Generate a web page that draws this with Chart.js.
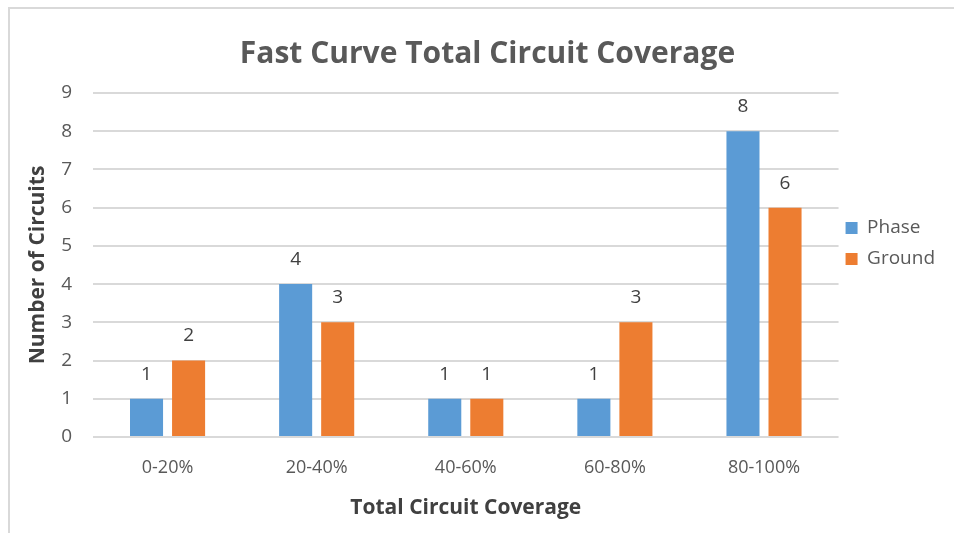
<!DOCTYPE html>
<html>
<head>
<meta charset="utf-8">
<script src="https://cdn.jsdelivr.net/npm/chart.js@4/dist/chart.umd.min.js"></script>
<style>
  html, body { margin: 0; padding: 0; background: #fff; }
  #wrap { position: relative; width: 954px; height: 533px; overflow: hidden; }
  #frame { position: absolute; left: 8px; top: 7px; width: 980px; height: 560px; border: 2px solid #d9d9d9; box-sizing: border-box; }
  canvas { position: absolute; left: 0; top: 0; }
</style>
</head>
<body>
<div id="wrap">
  <div id="frame"></div>
  <canvas id="myChart" width="954" height="533"></canvas>
</div>
<script>
var categories = ["0-20%", "20-40%", "40-60%", "60-80%", "80-100%"];
var phaseValues = [1, 4, 1, 1, 8];
var groundValues = [2, 3, 1, 3, 6];
var yTicks = [0, 1, 2, 3, 4, 5, 6, 7, 8, 9];

var fontName = "'Open Sans', Lato, sans-serif";

// draws the value above each bar
var valueLabels = {
  id: 'valueLabels',
  afterDatasetsDraw: function(chart) {
    var c = chart.ctx;
    c.save();
    c.fillStyle = '#404040';
    c.font = '19px ' + fontName;
    c.textAlign = 'center';
    c.textBaseline = 'bottom';
    chart.data.datasets.forEach(function(ds, i) {
      var meta = chart.getDatasetMeta(i);
      meta.data.forEach(function(bar, j) {
        c.fillText(ds.data[j], bar.x, bar.y - 15);
      });
    });
    c.restore();
  }
};

// legend sits a bit above the middle and closer to the plot in the original
var legendShift = {
  id: 'legendShift',
  afterLayout: function(chart) {
    chart.legend.top -= 25;
    chart.legend.bottom -= 25;
    chart.legend.left -= 5;
    chart.legend.right -= 5;
  }
};

var ctx = document.getElementById('myChart');

var chart = new Chart(ctx, {
  type: 'bar',
  data: {
    labels: categories,
    datasets: [{
      label: 'Phase',
      data: phaseValues,
      backgroundColor: '#5b9bd5',
      categoryPercentage: 0.564,
      barPercentage: 0.786
    }, {
      label: 'Ground',
      data: groundValues,
      backgroundColor: '#ed7d31',
      categoryPercentage: 0.564,
      barPercentage: 0.786
    }]
  },
  options: {
    responsive: false,
    animation: false,
    layout: { padding: { top: 16, left: 25, right: 4, bottom: 12 } },
    plugins: {
      title: {
        display: true,
        text: 'Fast Curve Total Circuit Coverage',
        color: '#595959',
        font: { family: fontName, size: 30, weight: 'bold' },
        padding: { top: 20, bottom: 21 }
      },
      legend: {
        position: 'right',
        labels: {
          boxWidth: 12,
          boxHeight: 12,
          padding: 12,
          color: '#595959',
          font: { family: fontName, size: 19 }
        }
      },
      tooltip: { enabled: false }
    },
    scales: {
      x: {
        afterFit: function(axis) { axis.height = 84; },
        grid: { display: false },
        border: { display: false },
        ticks: { color: '#595959', font: { family: fontName, size: 18 }, padding: 12 },
        title: {
          display: true,
          text: 'Total Circuit Coverage',
          color: '#404040',
          font: { family: fontName, size: 21, weight: 'bold' },
          padding: { top: 0, bottom: 0 }
        }
      },
      y: {
        min: 0,
        max: 9,
        afterBuildTicks: function(axis) {
          axis.ticks = yTicks.map(function(v) { return { value: v }; });
        },
        afterFit: function(axis) { axis.width = 68; },
        grid: { color: '#d9d9d9', lineWidth: 2, drawTicks: false },
        border: { display: false },
        ticks: { color: '#595959', font: { family: fontName, size: 19 }, padding: 21 },
        title: {
          display: true,
          text: 'Number of Circuits',
          color: '#404040',
          font: { family: fontName, size: 21, weight: 'bold' },
          padding: { top: 0, bottom: 0 }
        }
      }
    }
  },
  plugins: [valueLabels, legendShift]
});
</script>
</body>
</html>
